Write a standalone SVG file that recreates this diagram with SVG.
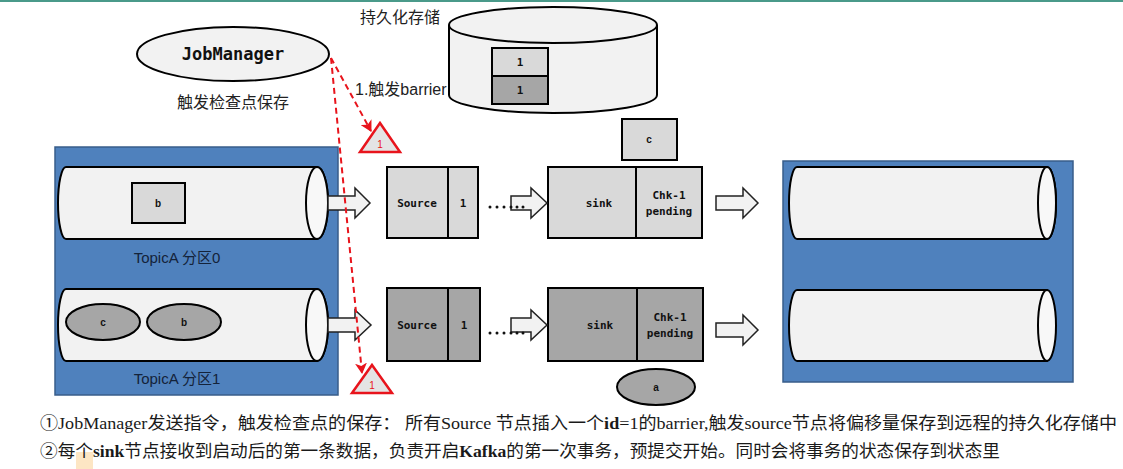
<svg xmlns="http://www.w3.org/2000/svg" width="1123" height="469" viewBox="0 0 1123 469">
<style>
.tube{fill:#f2f2f2;stroke:#000;stroke-width:2}
.tubeEnd{fill:#f8f8f8;stroke:#000;stroke-width:2}
.panel{fill:#4f81bd;stroke:#385d8a;stroke-width:1.5}
.light{fill:#d9d9d9;stroke:#000;stroke-width:2}
.dark{fill:#a6a6a6;stroke:#000;stroke-width:2}
.barr{fill:#e4e4e4;stroke:#e8141c;stroke-width:2.5;stroke-linejoin:miter}
.blk{fill:#f2f2f2;stroke:#222;stroke-width:1.5}
.mono{font-family:"DejaVu Sans Mono","Liberation Mono",monospace;font-weight:bold;font-size:11px;fill:#111;text-anchor:middle}
.lbl{font-family:"Liberation Sans","Noto Sans CJK SC",sans-serif;font-size:16px;fill:#222}
.topic{font-family:"Liberation Sans","Noto Sans CJK SC",sans-serif;font-size:15px;fill:#14233a;text-anchor:middle}
.small{font-family:"Liberation Sans",sans-serif;font-weight:bold;font-size:10px;fill:#111;text-anchor:middle}
.red{font-family:"Liberation Sans",sans-serif;font-size:10px;fill:#e8141c;text-anchor:middle}
.dash{fill:none;stroke:#e8141c;stroke-width:2;stroke-dasharray:6 4}
.note{font-family:"Liberation Serif","Noto Sans CJK SC",serif;font-size:17px;fill:#1a1a1a}
</style>
<defs>
<marker id="redArrow" markerWidth="12" markerHeight="12" refX="10" refY="6" orient="auto" markerUnits="userSpaceOnUse">
<path d="M0,0 L11,6 L0,12 L3,6 Z" fill="#e8141c"/>
</marker>
</defs>
<rect x="0" y="0" width="1123" height="469" fill="#ffffff"/>
<rect x="0" y="0" width="1123" height="2" fill="#4a9a8a"/>

<g id="jobmanager">
<ellipse cx="233" cy="54" rx="96" ry="27" fill="#f2f2f2" stroke="#000" stroke-width="2"/>
<text x="233" y="60" font-family="DejaVu Sans Mono,Liberation Mono,monospace" font-weight="bold" font-size="17" text-anchor="middle" fill="#111">JobManager</text>
<text x="177" y="108" class="lbl">触发检查点保存</text>
</g>

<g id="storage">
<text x="360" y="23" class="lbl">持久化存储</text>
<path d="M449,25 L449,95 A104,18 0 0 0 657,95 L657,25" class="tube"/>
<ellipse cx="553" cy="25" rx="104" ry="18" class="tube"/>
<rect x="492" y="48" width="56" height="28" class="light"/>
<rect x="492" y="76" width="56" height="28" class="dark"/>
<text x="520" y="66" class="mono">1</text>
<text x="520" y="94" class="mono">1</text>
</g>

<g id="box-c">
<rect x="622" y="119" width="55" height="41" class="light"/>
<text x="649" y="143" class="small">c</text>
</g>

<g id="source-topic">
<rect x="55" y="147" width="283" height="248" class="panel"/>
<path d="M66,167 L317,167 A11,36 0 0 1 317,239 L66,239 A8,36 0 0 1 66,167 Z" class="tube"/>
<ellipse cx="317" cy="203" rx="11" ry="36" class="tubeEnd"/>
<rect x="132" y="183" width="53" height="40" class="light"/>
<text x="158" y="207" class="small">b</text>
<text x="177" y="263" class="topic">TopicA 分区0</text>
<path d="M66,289 L317,289 A11,36 0 0 1 317,361 L66,361 A8,36 0 0 1 66,289 Z" class="tube"/>
<ellipse cx="317" cy="325" rx="11" ry="36" class="tubeEnd"/>
<ellipse cx="103" cy="322" rx="37" ry="18" class="dark"/>
<text x="103" y="326" class="small">c</text>
<ellipse cx="184" cy="322" rx="37" ry="18" class="dark"/>
<text x="184" y="326" class="small">b</text>
<text x="177" y="384" class="topic">TopicA 分区1</text>
</g>

<g id="target-topic">
<rect x="783" y="161" width="290" height="221" class="panel"/>
<path d="M797,167 L1047,167 A9,36 0 0 1 1047,239 L797,239 A8,36 0 0 1 797,167 Z" class="tube"/>
<ellipse cx="1047" cy="203" rx="9" ry="36" class="tubeEnd"/>
<path d="M797,290 L1047,290 A9,36 0 0 1 1047,361 L797,361 A8,35.5 0 0 1 797,290 Z" class="tube"/>
<ellipse cx="1047" cy="325.5" rx="9" ry="35.5" class="tubeEnd"/>
</g>

<g id="source-0">
<rect x="387" y="167" width="61" height="71" class="light"/>
<rect x="448" y="167" width="30" height="71" class="light"/>
<text x="417" y="207" class="mono">Source</text>
<text x="463" y="207" class="mono">1</text>
</g>
<g id="sink-0">
<rect x="548" y="167" width="88" height="71" class="light"/>
<rect x="636" y="167" width="66" height="71" class="light"/>
<text x="599" y="207" class="mono">sink</text>
<text x="669" y="199" class="mono">Chk-1</text>
<text x="669" y="215" class="mono">pending</text>
</g>
<g id="source-1">
<rect x="387" y="288" width="61" height="73" class="dark"/>
<rect x="448" y="288" width="32" height="73" class="dark"/>
<text x="417" y="329" class="mono">Source</text>
<text x="464" y="329" class="mono">1</text>
</g>
<g id="sink-1">
<rect x="548" y="288" width="89" height="73" class="dark"/>
<rect x="637" y="288" width="66" height="73" class="dark"/>
<text x="600" y="329" class="mono">sink</text>
<text x="670" y="321" class="mono">Chk-1</text>
<text x="670" y="337" class="mono">pending</text>
</g>
<g id="state-a">
<ellipse cx="656" cy="387" rx="39" ry="18" class="dark"/>
<text x="656" y="391" class="small">a</text>
</g>

<g id="barrier-1">
<polygon points="380,123 400,152 360,152" class="barr"/>
<text x="380" y="148" class="red">1</text>
</g>
<g id="barrier-2">
<polygon points="372,365 392,393 352,393" class="barr"/>
<text x="372" y="389" class="red">1</text>
</g>

<g id="connectors">
<path d="M328,196 L355,196 L355,188 L370,203 L355,218 L355,210 L328,210 Z" class="blk"/>
<path d="M511,196 L531,196 L531,188 L547,203 L531,218 L531,210 L511,210 Z" class="blk"/>
<path d="M716,196 L743,196 L743,188 L758,203 L743,218 L743,210 L716,210 Z" class="blk"/>
<path d="M328,318 L355,318 L355,310 L371,325 L355,340 L355,332 L328,332 Z" class="blk"/>
<path d="M511,318 L531,318 L531,310 L547,325 L531,340 L531,332 L511,332 Z" class="blk"/>
<path d="M716,323 L743,323 L743,315 L758,330 L743,345 L743,337 L716,337 Z" class="blk"/>
<g fill="#111">
<circle cx="490" cy="207" r="1.5"/><circle cx="497" cy="207" r="1.5"/><circle cx="504" cy="207" r="1.5"/><circle cx="511" cy="207" r="1.5"/><circle cx="517" cy="207" r="1.5"/><circle cx="523" cy="207" r="1.5"/>
<circle cx="490" cy="333" r="1.5"/><circle cx="497" cy="333" r="1.5"/><circle cx="504" cy="333" r="1.5"/><circle cx="511" cy="333" r="1.5"/><circle cx="517" cy="333" r="1.5"/><circle cx="523" cy="333" r="1.5"/>
</g>
<line x1="331" y1="58" x2="371" y2="131" class="dash" marker-end="url(#redArrow)"/>
<line x1="331" y1="58" x2="362" y2="373" class="dash" marker-end="url(#redArrow)"/>
<text x="355" y="95" class="lbl">1.触发barrier</text>
</g>

<rect x="76" y="452" width="17" height="17" fill="#fde6c4"/>
<text x="40" y="429" class="note" textLength="1077" lengthAdjust="spacingAndGlyphs">①JobManager发送指令，触发检查点的保存： 所有Source 节点插入一个<tspan font-weight="bold">id</tspan>=1的barrier,触发source节点将偏移量保存到远程的持久化存储中</text>
<text x="40" y="457" class="note" textLength="960" lengthAdjust="spacingAndGlyphs">②每个<tspan font-weight="bold">sink</tspan>节点接收到启动后的第一条数据，负责开启<tspan font-weight="bold">Kafka</tspan>的第一次事务，预提交开始。同时会将事务的状态保存到状态里</text>
</svg>
